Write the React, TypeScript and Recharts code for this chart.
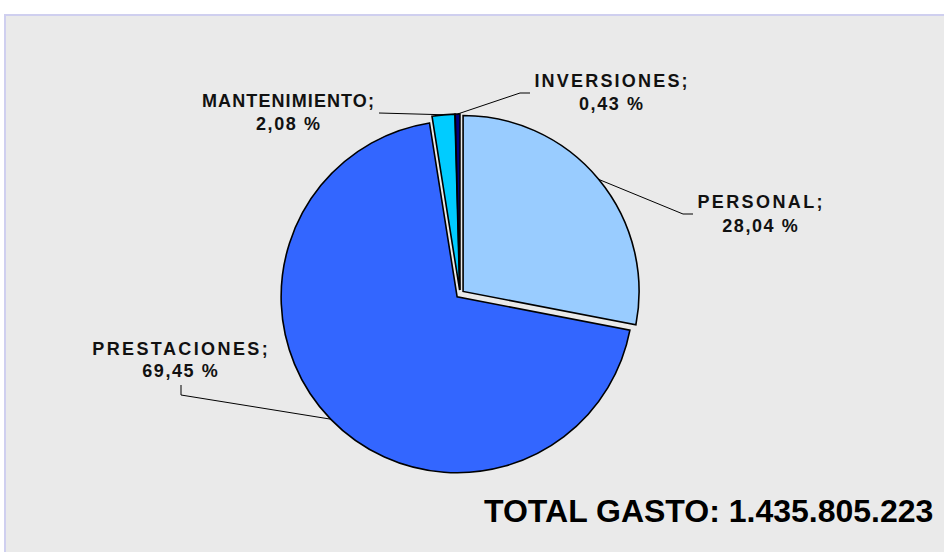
import { PieChart, Pie, Cell } from "recharts";

const categories = ["PERSONAL", "PRESTACIONES", "MANTENIMIENTO", "INVERSIONES"];
const shares = [28.04, 69.45, 2.08, 0.43];
const totalLabel = "TOTAL GASTO: 1.435.805.223";

const colors = ["#99CCFF", "#3366FF", "#00CCFF", "#000080"];

const data = categories.map((name, i) => ({ name, value: shares[i] }));

// where each label sits and how its leader line bends
const labelLayout = [
  { tx: 760, y1: 208, y2: 232, ls: 2.4, path: [[683, 214], [693, 214]] },
  { tx: 180, y1: 355, y2: 377, ls: 2.4, path: [[181, 395], [181, 385]] },
  { tx: 288, y1: 107, y2: 130, ls: 1.1, path: [[379, 113]] },
  { tx: 611, y1: 87, y2: 110, ls: 2.2, path: [[520, 93], [530, 93]] },
];

const CX = 460;
const CY = 294;
const RADIUS = 176;
const EXPLODE = 4;
const RADIAN = Math.PI / 180;
const FONT = '"Liberation Sans", Arial, sans-serif';

const sum = shares.reduce((a, b) => a + b, 0);
const midAngles = shares.map((s, i) => {
  const before = shares.slice(0, i).reduce((a, b) => a + b, 0);
  return 90 - ((before + s / 2) / sum) * 360;
});

const fmt = (v: number) => v.toFixed(2).replace(".", ",") + " %";

const renderLabel = (own: number) => (props: any) => {
  if (props.index !== own) return null;
  const lay = labelLayout[own];
  const a = -props.midAngle * RADIAN;
  const ex = props.cx + props.outerRadius * Math.cos(a);
  const ey = props.cy + props.outerRadius * Math.sin(a);
  const pts = [[ex, ey], ...lay.path].map((p) => p.join(",")).join(" ");
  return (
    <g>
      <polyline points={pts} fill="none" stroke="#000" strokeWidth={1} />
      <text
        x={lay.tx + lay.ls / 2}
        y={lay.y1}
        textAnchor="middle"
        fontFamily={FONT}
        fontWeight="bold"
        fontSize={18}
        letterSpacing={lay.ls}
        fill="#111"
      >
        {categories[own]};
      </text>
      <text
        x={lay.tx + 0.8}
        y={lay.y2}
        textAnchor="middle"
        fontFamily={FONT}
        fontWeight="bold"
        fontSize={18}
        letterSpacing={1.6}
        fill="#111"
      >
        {fmt(shares[own])}
      </text>
    </g>
  );
};

export default function App() {
  return (
    <div
      style={{
        position: "absolute",
        left: 0,
        top: 0,
        width: 944,
        height: 552,
        background: "#fff",
        overflow: "hidden",
      }}
    >
      <div
        style={{
          position: "absolute",
          left: 4,
          top: 14,
          width: 940,
          height: 538,
          background: "#EAEAEA",
          borderTop: "2px solid #CFCFEF",
          borderLeft: "2px solid #CFCFEF",
          boxSizing: "border-box",
        }}
      />
      <PieChart
        width={944}
        height={552}
        margin={{ top: 0, right: 0, bottom: 0, left: 0 }}
        style={{ position: "absolute", left: 0, top: 0 }}
      >
        {categories.map((_, own) => (
          <Pie
            key={own}
            data={data}
            dataKey="value"
            nameKey="name"
            cx={CX + EXPLODE * Math.cos(midAngles[own] * RADIAN)}
            cy={CY - EXPLODE * Math.sin(midAngles[own] * RADIAN)}
            outerRadius={RADIUS}
            startAngle={90}
            endAngle={-270}
            isAnimationActive={false}
            labelLine={false}
            label={renderLabel(own)}
          >
            {data.map((_, i) => (
              <Cell
                key={i}
                fill={i === own ? colors[i] : "none"}
                stroke={i === own ? "#000" : "none"}
                strokeWidth={1.6}
              />
            ))}
          </Pie>
        ))}
      </PieChart>
      <svg
        width={944}
        height={552}
        style={{ position: "absolute", left: 0, top: 0, pointerEvents: "none" }}
      >
        <text
          x={484}
          y={522}
          fontFamily={FONT}
          fontWeight="bold"
          fontSize={32}
          fill="#000"
        >
          {totalLabel}
        </text>
      </svg>
    </div>
  );
}
